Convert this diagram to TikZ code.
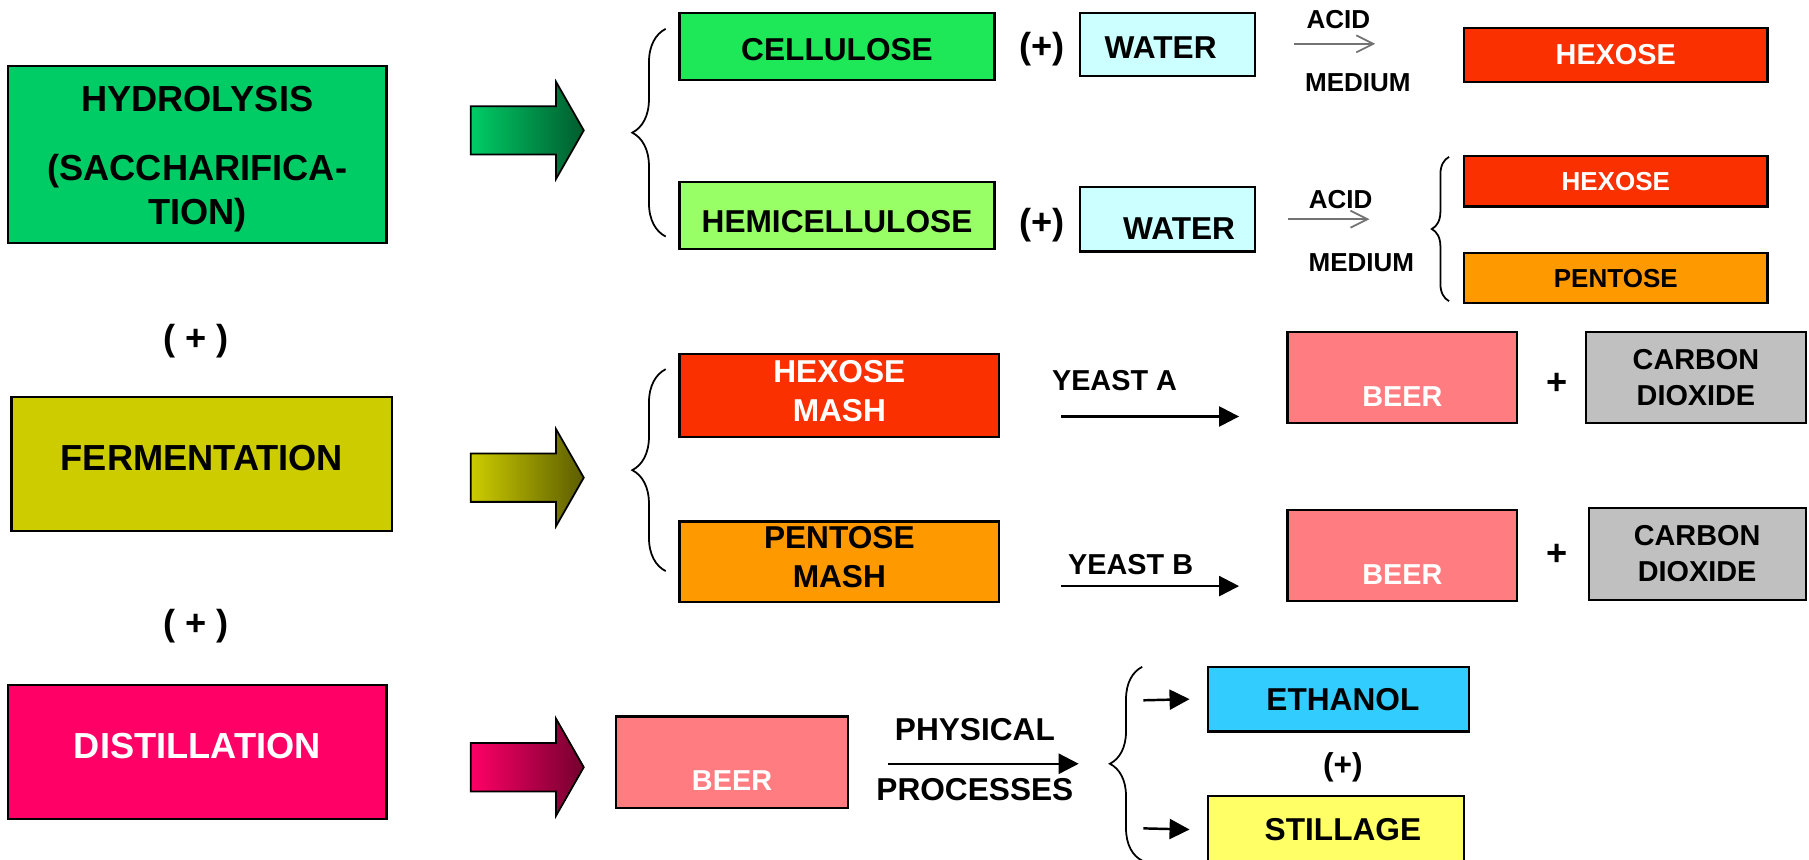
\documentclass[tikz,border=0pt]{standalone}
\usepackage{fontspec}
\setmainfont{Liberation Sans}
\usetikzlibrary{arrows.meta,decorations.pathreplacing}

\definecolor{hydc}{HTML}{00CC66}
\definecolor{ferc}{HTML}{CCCC00}
\definecolor{disc}{HTML}{FF0066}
\definecolor{cellc}{HTML}{1EE858}
\definecolor{hemic}{HTML}{99FF66}
\definecolor{watc}{HTML}{CCFFFF}
\definecolor{hexc}{HTML}{FA3000}
\definecolor{penc}{HTML}{FF9900}
\definecolor{beerc}{HTML}{FF7C80}
\definecolor{gasc}{HTML}{C0C0C0}
\definecolor{ethc}{HTML}{33CCFF}
\definecolor{stilc}{HTML}{FFFF66}

\newcommand{\spx}{0.011537cm}

\tikzset{
  box/.style={draw, line width=0.6pt, inner sep=0pt, align=center, font=\bfseries\fontsize{9}{11.2}\selectfont},
  wh/.style 2 args={minimum width=#1*\spx, minimum height=#2*\spx},
  txt/.style={inner sep=0pt, align=center, font=\bfseries\fontsize{9}{11.2}\selectfont},
  bigtxt/.style={font=\bfseries\fontsize{10.3}{12.5}\selectfont},
  midtxt/.style={font=\bfseries\fontsize{8.2}{10.2}\selectfont},
  smalltxt/.style={font=\bfseries\fontsize{7.4}{9}\selectfont},
  brc/.style={decorate, decoration={brace, amplitude=#1*\spx}, line width=0.5pt},
  acidarrow/.style={draw=black!55, line width=0.5pt, -{Straight Barb[length=0.17cm, width=0.17cm]}},
  fatarrow/.style={line width=0.7pt, -{Triangle[length=0.2cm, width=0.2cm]}},
}

\begin{document}
\begin{tikzpicture}[x=\spx, y=-\spx]
    \useasboundingbox (0,0) rectangle (1568,744.6);

    % --- main steps ---
    \node[box, fill=hydc, wh={328}{154}, label={[txt, bigtxt, yshift=-4*\spx]center:HYDROLYSIS\\[7pt](SACCHARIFICA-\\TION)}] (hyd) at (171,134) {};
    \node[txt, bigtxt] (plusa) at (170,296) {( + )};
    \node[box, fill=ferc, wh={330}{116}, label={[txt, bigtxt, yshift=5*\spx]center:FERMENTATION}] (fer) at (175,402) {};
    \node[txt, bigtxt] (plusb) at (170,543) {( + )};
    \node[box, fill=disc, wh={328}{116}, label={[txt, bigtxt, text=white, yshift=5*\spx]center:DISTILLATION}] (dis) at (171,652) {};

    \foreach \cy/\c in {113/hydc, 414/ferc, 665/disc} {
        \draw[line width=0.5pt, left color=\c, middle color=\c, right color=\c!45!black]
            (408,\cy-21) -- (482,\cy-21) -- (482,\cy-42) -- (506,\cy) -- (482,\cy+42) -- (482,\cy+21) -- (408,\cy+21) -- cycle;
    }

    % --- hydrolysis ---
    \node[box, fill=cellc, wh={273}{58}, label={[txt, yshift=-3*\spx]center:CELLULOSE}] (cell) at (725.5,40) {};
    \node[box, fill=hemic, wh={273}{58}, label={[txt, yshift=-5*\spx]center:HEMICELLULOSE}] (hemi) at (725.5,187) {};
    \coordinate (b1b) at (577,205); \coordinate (b1t) at (577,25);
    \draw[brc=29] (b1b) -- (b1t);

    \node[txt, bigtxt] (pcell) at (903,43) {(+)};
    \node[txt, bigtxt] (phemi) at (903,195) {(+)};
    \node[box, fill=watc, wh={152}{55}, label={[txt, xshift=-6*\spx, yshift=-3*\spx]center:WATER}] (wat1) at (1012,38.5) {};
    \node[box, fill=watc, wh={152}{56}, label={[txt, xshift=10*\spx, yshift=-8*\spx]center:WATER}] (wat2) at (1012,190) {};

    \node[txt, smalltxt] (acid1) at (1160,17) {ACID};
    \node[txt, smalltxt] (med1) at (1177,72) {MEDIUM};
    \coordinate (a1s) at (1122,38); \coordinate (a1e) at (1192,38);
    \draw[acidarrow] (a1s) -- (a1e);
    \node[txt, smalltxt] (acid2) at (1162,173) {ACID};
    \node[txt, smalltxt] (med2) at (1180,228) {MEDIUM};
    \coordinate (a2s) at (1116,190); \coordinate (a2e) at (1187,190);
    \draw[acidarrow] (a2s) -- (a2e);

    \node[box, midtxt, fill=hexc, text=white, wh={263}{47}] (hex1) at (1400.5,47.5) {HEXOSE};
    \node[box, smalltxt, fill=hexc, text=white, wh={263}{44}] (hex2) at (1400.5,157) {HEXOSE};
    \node[box, smalltxt, fill=penc, wh={263}{44}] (pen) at (1400.5,241) {PENTOSE};
    \coordinate (b2b) at (1256,261); \coordinate (b2t) at (1256,136);
    \draw[brc=15] (b2b) -- (b2t);

    % --- fermentation ---
    \node[box, fill=hexc, wh={277}{72}, label={[txt, text=white, yshift=4*\spx]center:HEXOSE\\MASH}] (hmash) at (727.5,343) {};
    \node[box, fill=penc, wh={277}{70}, label={[txt, yshift=4*\spx]center:PENTOSE\\MASH}] (pmash) at (727.5,487) {};
    \coordinate (b3b) at (577,495); \coordinate (b3t) at (577,320);
    \draw[brc=29] (b3b) -- (b3t);

    \node[txt, midtxt] (yeasta) at (966,330) {YEAST A};
    \coordinate (ya1) at (920,361); \coordinate (ya2) at (1074,361);
    \draw[fatarrow] (ya1) -- (ya2);
    \node[txt, midtxt] (yeastb) at (980,489) {YEAST B};
    \coordinate (yb1) at (920,508); \coordinate (yb2) at (1074,508);
    \draw[fatarrow] (yb1) -- (yb2);

    \node[box, fill=beerc, wh={199}{79}, label={[txt, midtxt, text=white, yshift=-16.5*\spx]center:BEER}] (beer1) at (1215.5,327.5) {};
    \node[txt, bigtxt] (pbeer1) at (1350,333) {+};
    \node[box, midtxt, fill=gasc, wh={190}{79}] (gas1) at (1470,327.5) {CARBON\\DIOXIDE};
    \node[box, fill=beerc, wh={199}{79}, label={[txt, midtxt, text=white, yshift=-16.5*\spx]center:BEER}] (beer2) at (1215.5,481.5) {};
    \node[txt, bigtxt] (pbeer2) at (1350,481) {+};
    \node[box, midtxt, fill=gasc, wh={188}{80}] (gas2) at (1471,480) {CARBON\\DIOXIDE};

    % --- distillation ---
    \node[box, fill=beerc, wh={201}{79}, label={[txt, midtxt, text=white, yshift=-16.5*\spx]center:BEER}] (beer3) at (634.5,660.5) {};
    \node[txt] (phys) at (845,632) {PHYSICAL};
    \node[txt] (proc) at (845,684) {PROCESSES};
    \coordinate (pp1) at (770,662); \coordinate (pp2) at (935,662);
    \draw[fatarrow] (pp1) -- (pp2);
    \coordinate (b4b) at (990,746); \coordinate (b4t) at (990,578);
    \draw[brc=28] (b4b) -- (b4t);

    \node[box, fill=ethc, wh={226}{56}, label={[txt, xshift=4*\spx]center:ETHANOL}] (eth) at (1160,606) {};
    \node[txt] (peth) at (1164,665) {(+)};
    \node[box, fill=stilc, wh={222}{58}, label={[txt, xshift=6*\spx]center:STILLAGE}] (still) at (1158,719) {};
    \coordinate (e1) at (991,607); \coordinate (s1) at (991,718);
    \draw[fatarrow] (e1) -- ([xshift=-15*\spx]eth.west);
    \draw[fatarrow] (s1) -- ([xshift=-15*\spx]still.west);
\end{tikzpicture}
\end{document}
